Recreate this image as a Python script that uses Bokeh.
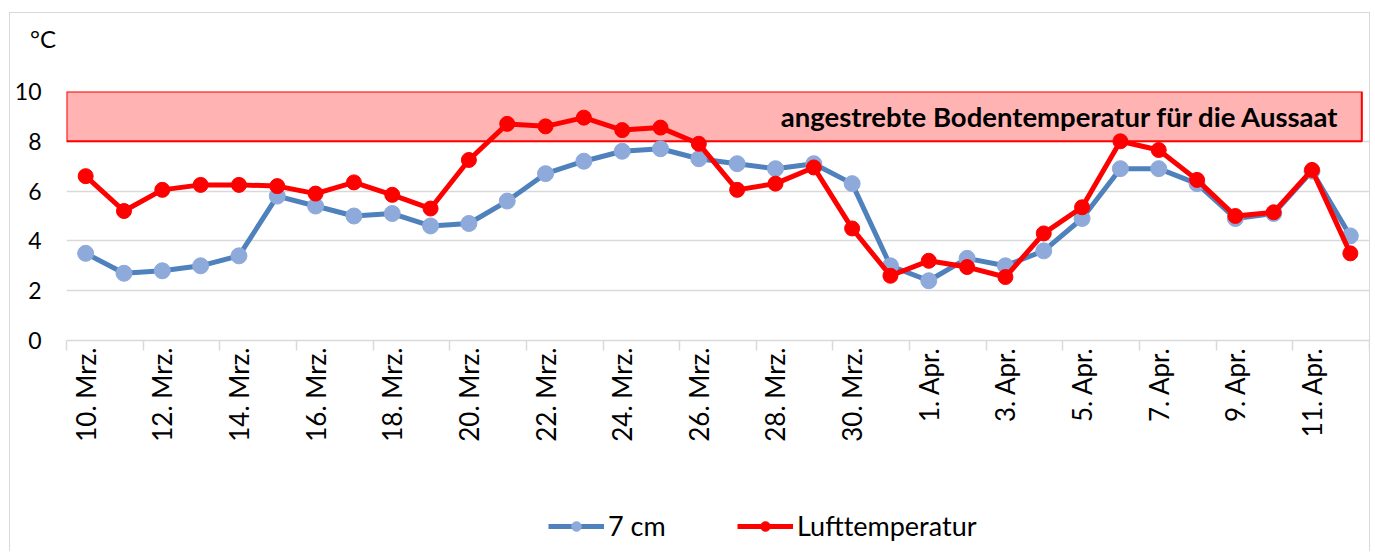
import math
from bokeh.plotting import figure
from bokeh.layouts import column
from bokeh.models import Range1d, FixedTicker, LinearAxis, Legend, LegendItem, Div
from bokeh.core.properties import value
from bokeh.embed import file_html
from bokeh.resources import INLINE

# ---- data ----
dates = [f"{d}. Mrz." for d in range(10, 32)] + [f"{d}. Apr." for d in range(1, 13)]
soil_7cm = [3.5, 2.7, 2.8, 3.0, 3.4, 5.8, 5.4, 5.0, 5.1, 4.6, 4.7, 5.6, 6.7, 7.2, 7.6, 7.7,
            7.3, 7.1, 6.9, 7.1, 6.3, 3.0, 2.4, 3.3, 3.0, 3.6, 4.9, 6.9, 6.9, 6.3, 4.9, 5.1,
            6.8, 4.2]
air_temp = [6.6, 5.2, 6.05, 6.25, 6.25, 6.2, 5.9, 6.35, 5.85, 5.3, 7.25, 8.7, 8.6, 8.95,
            8.45, 8.55, 7.9, 6.05, 6.3, 6.95, 4.5, 2.6, 3.2, 2.95, 2.55, 4.3, 5.35, 8.0,
            7.65, 6.45, 5.0, 5.15, 6.85, 3.5]
y_ticks = [0, 2, 4, 6, 8, 10]
target_low, target_high = 8, 10
target_text = "angestrebte Bodentemperatur für die Aussaat"
unit_label = "°C"
series_names = ["7 cm", "Lufttemperatur"]

FONT = "Lato"
GRID = "#D9D9D9"
BORDER = "1px solid #D9D9D9"
BLUE_LINE, BLUE_MARK, RED = "#4F81BD", "#8EAADB", "#FF0000"
n = len(dates)
x = list(range(n))
W = 1361

# ---- header strip with the unit label ----
header = Div(text=f'<div style="padding:14px 0 0 20px; font-family:Lato; font-size:24px; '
                  f'line-height:1; color:#000000;">{unit_label}</div>',
             width=W, height=40, margin=(12, 0, 0, 9),
             styles={"border-top": BORDER, "border-left": BORDER, "border-right": BORDER})

# ---- main chart ----
p = figure(width=W, height=447, output_backend="svg", toolbar_location=None,
           x_range=Range1d(-0.5, n - 0.5), y_range=Range1d(y_ticks[0], y_ticks[-1]),
           x_axis_type=None,
           min_border_left=56, min_border_right=2, min_border_top=39, min_border_bottom=159)
p.margin = (0, 0, 0, 9)
p.styles = {"border-left": BORDER, "border-right": BORDER}
p.outline_line_color = None

# y axis
p.yaxis.ticker = FixedTicker(ticks=y_ticks)
p.yaxis.axis_line_color = None
p.yaxis.major_tick_line_color = None
p.yaxis.minor_tick_line_color = None
p.yaxis.major_label_text_font = FONT
p.yaxis.major_label_text_font_size = "23px"
p.yaxis.major_label_text_color = "#000000"
p.yaxis.major_label_standoff = 19
p.ygrid.ticker = FixedTicker(ticks=y_ticks[1:])
p.ygrid.grid_line_color = GRID
p.ygrid.grid_line_width = 1.5

# x axis: tick marks between categories
tick_axis = LinearAxis(ticker=FixedTicker(ticks=[i - 0.5 for i in range(0, n + 1, 2)]),
                       axis_line_color=GRID, axis_line_width=1.5,
                       major_tick_line_color=GRID, major_tick_line_width=1.5,
                       major_tick_in=0, major_tick_out=10,
                       minor_tick_line_color=None,
                       major_label_text_font_size="0px", major_label_standoff=0)
p.add_layout(tick_axis, "below")

label_axis = LinearAxis(ticker=FixedTicker(ticks=x[::2]),
                        major_label_overrides={i: dates[i] for i in x[::2]},
                        axis_line_color=None, major_tick_line_color=None,
                        minor_tick_line_color=None,
                        major_tick_in=0, major_tick_out=0,
                        major_label_orientation=math.pi / 2,
                        major_label_standoff=-3,
                        major_label_text_font=FONT,
                        major_label_text_font_size="26px",
                        major_label_text_color="#000000")
p.add_layout(label_axis, "below")

# target band
p.quad(left=-0.5, right=n - 0.7, bottom=target_low, top=target_high,
       fill_color="#FFB3B3", line_color=RED, line_width=2)

# series
p.line(x, soil_7cm, line_color=BLUE_LINE, line_width=5)
p.scatter(x, soil_7cm, size=16, fill_color=BLUE_MARK, line_color=BLUE_MARK)
p.line(x, air_temp, line_color=RED, line_width=5)
p.scatter(x, air_temp, size=15, fill_color=RED, line_color=RED)

p.text(x=[n - 1.28], y=[(target_low + target_high) / 2], text=[target_text],
       text_align="right", text_baseline="middle",
       text_font=value(FONT), text_font_style="bold", text_font_size="27.5px",
       text_color="#000000")

# ---- legend strip (its series lie outside its visible range) ----
q = figure(width=W, height=52, output_backend="svg", toolbar_location=None,
           x_range=Range1d(-0.5, n - 0.5), y_range=Range1d(-20, -10),
           x_axis_type=None, y_axis_type=None, min_border=0)
q.margin = (0, 0, 0, 9)
q.styles = {"border-left": BORDER, "border-right": BORDER}
q.outline_line_color = None
q.xgrid.visible = False
q.ygrid.visible = False
ql1 = q.line(x, soil_7cm, line_color=BLUE_LINE, line_width=5)
qs1 = q.scatter(x, soil_7cm, size=15, fill_color=BLUE_MARK, line_color=BLUE_MARK)
ql2 = q.line(x, air_temp, line_color=RED, line_width=5)
qs2 = q.scatter(x, air_temp, size=14, fill_color=RED, line_color=RED)

legend = Legend(items=[LegendItem(label=series_names[0], renderers=[ql1, qs1]),
                       LegendItem(label=series_names[1], renderers=[ql2, qs2])],
                location=(482, 9), orientation="horizontal",
                glyph_width=56, glyph_height=24, label_width=129, label_standoff=4,
                spacing=0, padding=5, margin=0, border_line_color=None,
                background_fill_alpha=0, label_text_font=FONT,
                label_text_font_size="27px", label_text_color="#000000")
q.add_layout(legend, "center")

layout = column(header, p, q, spacing=0)
open("out.html", "w").write(file_html(layout, INLINE))
